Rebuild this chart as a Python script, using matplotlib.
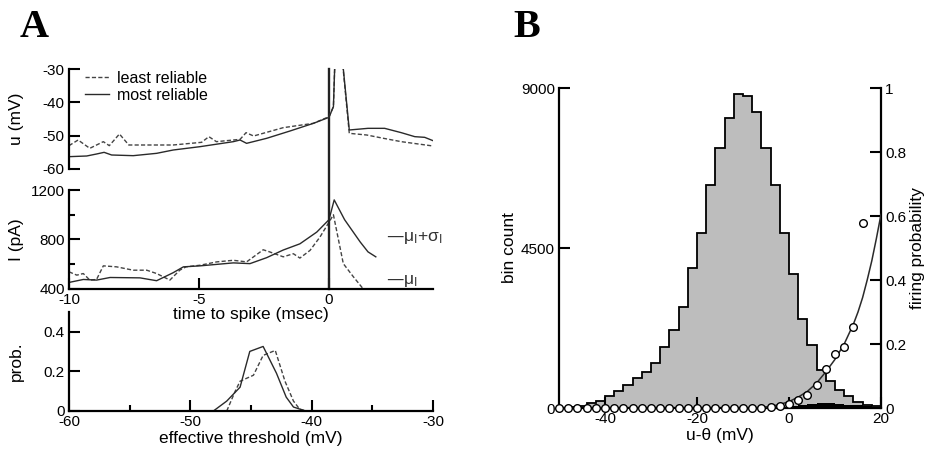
import numpy as np
import matplotlib
matplotlib.use('Agg')
import matplotlib.pyplot as plt

plt.rcParams['font.family'] = ['Liberation Sans', 'DejaVu Sans']
plt.rcParams['mathtext.default'] = 'regular'
plt.rcParams['axes.unicode_minus'] = False

# --- panel A, top: membrane potential around the spike (msec, mV)
t_u_most = [-10, -9.32, -8.94, -8.65, -8.36, -7.53, -6.63, -5.99, -4.96, -3.68, -3.42, -3.17,
            -2.4, -1.5, -0.6, 0.0, 0.17, 0.30, 0.78, 1.5, 2.14, 2.78, 3.3, 3.68, 4.0]
u_most = [-56.3, -56.1, -55.5, -55.0, -55.8, -56.0, -55.3, -54.3, -53.3, -51.8, -51.3, -52.3,
          -50.8, -48.6, -46.3, -44.5, -41.3, -10.0, -48.3, -47.8, -47.8, -49.1, -50.3, -50.5, -51.5]
t_u_least = [-10, -9.65, -9.2, -8.68, -8.45, -8.06, -7.7, -6.0, -4.9, -4.62, -4.33, -3.42, -3.19,
             -2.9, -1.76, -0.6, 0.0, 0.17, 0.30, 0.78, 1.45, 2.1, 2.78, 4.0]
u_least = [-53.0, -51.3, -53.8, -51.8, -53.0, -49.5, -52.8, -52.8, -52.0, -50.3, -51.8, -51.1, -49.1,
           -50.1, -47.6, -46.3, -44.3, -41.3, -10.0, -49.3, -49.8, -50.8, -51.8, -53.1]

# --- panel A, middle: input current (pA)
t_i_most = [-10, -9.45, -8.94, -8.42, -7.27, -6.63, -6.0, -5.6, -4.96, -3.68, -3.04, -2.4,
            -1.76, -1.12, -0.47, 0.0, 0.2, 0.6, 1.2, 1.5, 1.8]
i_most = [453, 477, 472, 493, 490, 467, 531, 579, 587, 611, 605, 653,
          715, 765, 860, 960, 1120, 960, 780, 700, 660]
t_i_least = [-10, -9.7, -9.45, -9.2, -8.94, -8.68, -8.17, -7.53, -7.01, -6.63, -6.12, -5.74, -5.5,
             -4.96, -4.32, -3.68, -3.17, -2.53, -2.27, -1.76, -1.37, -1.12, -0.73, -0.35, 0.0,
             0.17, 0.55, 0.94, 1.32, 1.6]
i_least = [539, 512, 525, 472, 477, 587, 579, 552, 552, 525, 472, 552, 579,
           592, 619, 632, 619, 717, 699, 660, 685, 650, 712, 819, 940,
           1000, 605, 498, 400, 330]

# --- panel A, bottom: effective threshold distributions
thr_most = [-48.1, -47.0, -45.9, -45.1, -44.0, -42.9, -42.1, -41.5, -40.5, -39.0]
prob_most = [0.0, 0.05, 0.12, 0.30, 0.325, 0.19, 0.07, 0.02, 0.0, 0.0]
thr_least = [-47.0, -46.3, -45.9, -44.8, -44.0, -43.0, -42.2, -41.5, -41.0, -40.5, -39.0]
prob_least = [0.0, 0.10, 0.15, 0.18, 0.28, 0.305, 0.15, 0.05, 0.01, 0.0, 0.0]

# --- panel B: histogram of u-theta, spike-triggered histogram, firing probability
hist_edges = np.arange(-50, 21, 2)
hist_counts = [0, 15, 60, 131, 197, 340, 480, 650, 850, 1020, 1256, 1706, 2194, 2850, 3928,
               4912, 6272, 7303, 8147, 8831, 8775, 8334, 7303, 6272, 4931, 3760, 2500, 1770,
               1070, 750, 500, 330, 180, 95, 45]
spike_edges = np.arange(-6, 21, 2)
spike_counts = [5, 15, 30, 60, 90, 115, 130, 130, 115, 95, 75, 55, 35]

circle_x = np.arange(-50, 17, 2)
circle_p = [0] * 23 + [0.002, 0.006, 0.012, 0.024, 0.041, 0.073, 0.122, 0.168, 0.19, 0.252, 0.577]
curve_x = [-8, -6, -4, -2, 0, 2, 4, 6, 8, 10, 12, 14, 15, 16, 17, 18, 19, 20]
curve_p = [0.0, 0.002, 0.005, 0.011, 0.02, 0.034, 0.052, 0.078, 0.113, 0.152, 0.2, 0.262,
           0.3, 0.345, 0.4, 0.46, 0.53, 0.605]

W, H = 927, 451
fig = plt.figure(figsize=(W / 100, H / 100), dpi=100)


def box(l, t, r, b):
    return [l / W, 1 - b / H, (r - l) / W, (b - t) / H]


def style(ax, spines=('left', 'bottom')):
    ax.patch.set_visible(False)
    for s in ['left', 'right', 'top', 'bottom']:
        ax.spines[s].set_visible(s in spines)
        ax.spines[s].set_linewidth(1.6)
    ax.tick_params(which='major', direction='in', length=8, width=1.5, labelsize=11, pad=3)
    ax.tick_params(which='minor', direction='in', length=4.5, width=1.5)


LC = '#2a2a2a'
DASH = (0, (3, 1.6))
fs_lab = 12.5
ylab_x = (24 - 69) / 364  # left labels of panel A share one column

ax_p = fig.add_axes(box(69, 311.7, 433, 411))
ax_i = fig.add_axes(box(69, 190, 433, 289))
ax_u = fig.add_axes(box(69, 69, 433, 169))
ax_b = fig.add_axes(box(559, 88, 881, 408))

# u(t)
style(ax_u, spines=('left',))
ax_u.plot(t_u_least, u_least, color='#444', lw=1.0, ls=DASH, label='least reliable')
ax_u.plot(t_u_most, u_most, color=LC, lw=1.0, label='most reliable')
ax_u.set_xlim(-10, 4)
ax_u.set_ylim(-60, -30)
ax_u.set_yticks([-60, -50, -40, -30])
ax_u.set_xticks([])
ax_u.set_ylabel('u (mV)', fontsize=fs_lab)
ax_u.yaxis.set_label_coords(ylab_x, 0.5)
ax_u.legend(loc='upper left', bbox_to_anchor=((85 - 69) / 364, (169 - 71) / 100),
            frameon=False, fontsize=11.5, handlelength=1.5, handletextpad=0.5,
            borderpad=0, borderaxespad=0, labelspacing=0.1)

# I(t)
style(ax_i)
ax_i.plot(t_i_least, i_least, color='#444', lw=1.0, ls=DASH)
ax_i.plot(t_i_most, i_most, color=LC, lw=1.0)
ax_i.axvline(0, ymin=0, ymax=(289 - 69) / 99, clip_on=False, color='#222', lw=1.7)
ax_i.set_xlim(-10, 4)
ax_i.set_ylim(400, 1200)
ax_i.set_yticks([400, 800, 1200])
ax_i.set_yticks([600, 1000], minor=True)
ax_i.set_xticks([-10, -5, 0])
ax_i.set_ylabel('I (pA)', fontsize=fs_lab)
ax_i.yaxis.set_label_coords(ylab_x, 0.5)
ax_i.set_xlabel('time to spike (msec)', fontsize=fs_lab, labelpad=0)
fig.text(386 / W, 1 - 238 / H, '—$\\mu_I$+$\\sigma_I$', fontsize=12.5, va='center', color='#333')
fig.text(386 / W, 1 - 281 / H, '—$\\mu_I$', fontsize=12.5, va='center', color='#333')

# threshold distribution
style(ax_p)
ax_p.plot(thr_least, prob_least, color='#444', lw=1.0, ls=DASH)
ax_p.plot(thr_most, prob_most, color=LC, lw=1.0)
ax_p.set_xlim(-60, -30)
ax_p.set_ylim(0, 0.5)
ax_p.set_yticks([0, 0.2, 0.4])
ax_p.set_yticklabels(['0', '0.2', '0.4'])
ax_p.set_xticks([-60, -50, -40, -30])
ax_p.set_xticks([-55, -45, -35], minor=True)
ax_p.set_ylabel('prob.', fontsize=fs_lab)
ax_p.yaxis.set_label_coords(ylab_x, 0.5)
ax_p.set_xlabel('effective threshold (mV)', fontsize=fs_lab, labelpad=1)

# panel B
style(ax_b)
ax_b.stairs(hist_counts, hist_edges, fill=True, color='#bdbdbd', zorder=1)
ax_b.stairs(hist_counts, hist_edges, color='black', lw=1.3, zorder=2)
ax_b.stairs(spike_counts, spike_edges, fill=True, color='black', zorder=3)
ax_b.set_xlim(-50, 20)
ax_b.set_ylim(0, 9000)
ax_b.set_yticks([0, 4500, 9000])
ax_b.set_xticks([-40, -20, 0, 20])
ax_b.set_ylabel('bin count', fontsize=fs_lab)
ax_b.yaxis.set_label_coords((517 - 559) / 322, 0.5)
ax_b.set_xlabel('u-θ (mV)', fontsize=fs_lab, labelpad=1)

ax_r = ax_b.twinx()
style(ax_r, spines=('right',))
ax_r.plot(curve_x, curve_p, color=LC, lw=1.1, zorder=4)
ax_r.plot(circle_x, circle_p, 'o', mfc='white', mec='black', ms=5.5, mew=1.0, clip_on=False, zorder=5)
ax_r.set_ylim(0, 1)
ax_r.set_yticks([0, 0.2, 0.4, 0.6, 0.8, 1.0])
ax_r.set_yticklabels(['0', '0.2', '0.4', '0.6', '0.8', '1'])
ax_r.set_ylabel('firing probability', fontsize=fs_lab, labelpad=3)

fig.text(20 / W, 1 - 37 / H, 'A', family=['Liberation Serif', 'DejaVu Serif'], weight='bold',
         fontsize=29, va='baseline')
fig.text(513 / W, 1 - 37 / H, 'B', family=['Liberation Serif', 'DejaVu Serif'], weight='bold',
         fontsize=29, va='baseline')

fig.savefig('out.png', dpi=100)
